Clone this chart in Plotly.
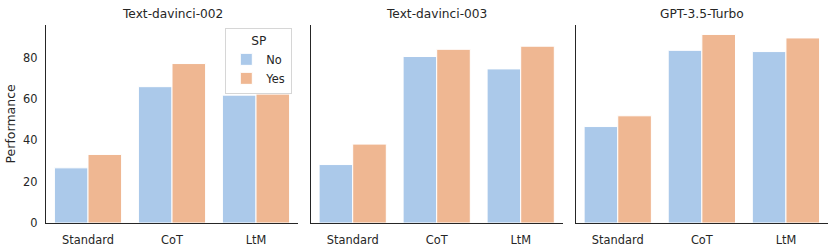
import plotly.graph_objects as go

models = ["Text-davinci-002", "Text-davinci-003", "GPT-3.5-Turbo"]
methods = ["Standard", "CoT", "LtM"]
sp_no = {
    "Text-davinci-002": [26.7, 66.0, 61.9],
    "Text-davinci-003": [28.3, 80.6, 74.6],
    "GPT-3.5-Turbo": [46.7, 83.6, 83.0],
}
sp_yes = {
    "Text-davinci-002": [33.2, 77.2, 62.4],
    "Text-davinci-003": [38.2, 84.1, 85.6],
    "GPT-3.5-Turbo": [51.9, 91.3, 89.6],
}
y_ticks = [0, 20, 40, 60, 80]

C_NO = "#abc9ea"
C_YES = "#efb792"
AX = "#262626"
FONT = "DejaVu Sans"

W, H = 831, 249
ml, mr, mt, mb = 46, 3, 25, 25.5
pw = W - ml - mr
doms = [(46, 298), (310.7, 562.7), (575.7, 828)]

fig = go.Figure()
ymax = max(max(v) for v in sp_yes.values()) * 1.05

for i, m in enumerate(models):
    xa = "x" if i == 0 else f"x{i+1}"
    ya = "y" if i == 0 else f"y{i+1}"
    fig.add_trace(go.Bar(x=methods, y=sp_no[m], name="No", marker=dict(color=C_NO, line=dict(color="white", width=1)),
                         xaxis=xa, yaxis=ya, showlegend=(i == 0), legendgroup="No", offsetgroup="No"))
    fig.add_trace(go.Bar(x=methods, y=sp_yes[m], name="Yes", marker=dict(color=C_YES, line=dict(color="white", width=1)),
                         xaxis=xa, yaxis=ya, showlegend=(i == 0), legendgroup="Yes", offsetgroup="Yes"))
    d0 = (doms[i][0] - ml) / pw
    d1 = min((doms[i][1] - ml) / pw, 1.0)
    xkey = "xaxis" if i == 0 else f"xaxis{i+1}"
    ykey = "yaxis" if i == 0 else f"yaxis{i+1}"
    fig.layout[xkey] = dict(domain=[d0, d1], anchor=ya, range=[-0.5, 2.5], showline=True, linecolor=AX, linewidth=1.25,
                            ticks="", showgrid=False, zeroline=False, ticklabelstandoff=6,
                            tickfont=dict(family=FONT, size=11.4, color=AX))
    fig.layout[ykey] = dict(domain=[0, 1], anchor=xa, range=[0, ymax], showline=True, linecolor=AX, linewidth=1.25,
                            ticks="", showgrid=False, zeroline=False, tickvals=y_ticks if i == 0 else [],
                            showticklabels=(i == 0), ticklabelstandoff=5,
                            tickfont=dict(family=FONT, size=11.4, color=AX))
    fig.add_annotation(text=m, xref="paper", yref="paper", x=(d0 + d1) / 2, y=1, yshift=2,
                       xanchor="center", yanchor="bottom", showarrow=False,
                       font=dict(family=FONT, size=12.2, color=AX))

fig.add_annotation(text="Performance", xref="paper", yref="paper", x=0, y=0.5, xshift=-36.5,
                   xanchor="center", yanchor="middle", textangle=-90, showarrow=False,
                   font=dict(family=FONT, size=12.5, color=AX))

fig.update_layout(
    width=W, height=H,
    margin=dict(l=ml, r=mr, t=mt, b=mb),
    paper_bgcolor="white", plot_bgcolor="white",
    barmode="group", bargap=0.2, bargroupgap=0.0,
    font=dict(family=FONT, color=AX),
    legend=dict(
        title=dict(text="SP", side="top center", font=dict(family=FONT, size=12.2, color=AX)),
        x=(292.3 - ml) / pw, xanchor="right", y=(H - mb - 28) / (H - mt - mb), yanchor="top",
        bordercolor="#d6d6d6", borderwidth=1, bgcolor="rgba(255,255,255,0.8)",
        font=dict(family=FONT, size=11.4, color=AX), tracegroupgap=0,
    ),
)

fig.write_html("out.html", config={"displayModeBar": False},
               post_script="document.body.style.margin='0';document.body.style.padding='0';")
